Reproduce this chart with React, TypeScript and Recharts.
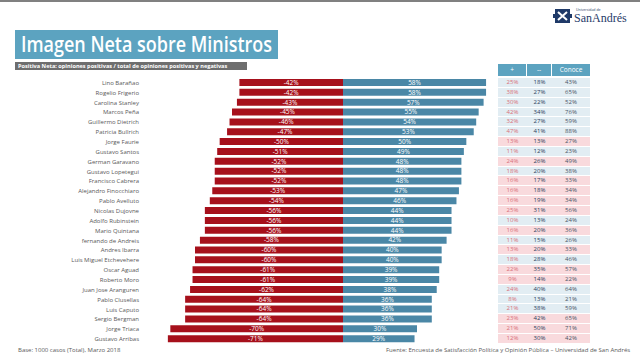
import React from "react";
import { BarChart, Bar, XAxis, YAxis, LabelList } from "recharts";

const ministers = [
  "Lino Barañao",
  "Rogelio Frigerio",
  "Carolina Stanley",
  "Marcos Peña",
  "Guillermo Dietrich",
  "Patricia Bullrich",
  "Jorge Faurie",
  "Gustavo Santos",
  "German Garavano",
  "Gustavo Lopetegui",
  "Francisco Cabrera",
  "Alejandro Finocchiaro",
  "Pablo Avelluto",
  "Nicolas Dujovne",
  "Adolfo Rubinstein",
  "Mario Quintana",
  "fernando de Andreis",
  "Andres Ibarra",
  "Luis Miguel Etchevehere",
  "Oscar Aguad",
  "Roberto Moro",
  "Juan Jose Aranguren",
  "Pablo Clusellas",
  "Luis Caputo",
  "Sergio Bergman",
  "Jorge Triaca",
  "Gustavo Arribas",
];

const negativeNet = [
  -42, -42, -43, -45, -46, -47, -50, -51, -52, -52, -52, -53, -54, -56, -56, -56,
  -58, -60, -60, -61, -61, -62, -64, -64, -64, -70, -71,
];
const positiveNet = [
  58, 58, 57, 55, 54, 53, 50, 49, 48, 48, 48, 47, 46, 44, 44, 44, 42, 40, 40, 39,
  39, 38, 36, 36, 36, 30, 29,
];

const favorable = [
  25, 38, 30, 42, 32, 47, 13, 11, 24, 18, 16, 16, 16, 25, 10, 16, 11, 13, 18, 22,
  9, 24, 8, 21, 23, 21, 12,
];
const unfavorable = [
  18, 27, 22, 34, 27, 41, 13, 12, 26, 20, 17, 18, 19, 31, 13, 20, 15, 20, 28, 35,
  14, 40, 13, 38, 42, 50, 30,
];
const knows = [
  43, 65, 52, 76, 59, 88, 27, 23, 49, 38, 33, 34, 34, 56, 24, 36, 26, 33, 46, 57,
  22, 64, 21, 59, 65, 71, 42,
];
// pink rows in the side table
const flagged = [
  false, false, false, false, false, false, true, false, true, false, true, true,
  true, true, false, true, false, true, false, true, true, false, false, false,
  true, true, true,
];

const tableHeaders = ["+", "--", "Conoce"];

const FONT = "'Open Sans', 'DejaVu Sans', sans-serif";
const RED = "#a6101b";
const BLUE = "#4a87a6";
const TEAL = "#5ca3c0";

const rows = ministers.map((name, i) => ({
  name,
  neg: negativeNet[i],
  pos: positiveNet[i],
}));

const TOP = 78;
const BOTTOM = 18;
const ROW_H = (362 - TOP - BOTTOM) / ministers.length;

const NameTick = (props: any) => {
  const { x, y, payload } = props;
  return (
    <text x={x} y={y} dy={2} textAnchor="end" fontSize={6} fill="#595959" fontFamily={FONT}>
      {payload.value}
    </text>
  );
};

const Logo = () => (
  <div style={{ position: "absolute", left: 553, top: 8, display: "flex", alignItems: "center" }}>
    <svg width={19} height={16}>
      <rect x={2} y={1} width={15} height={14} fill="#1f3a68" />
      <path d="M5 4 L14 12 M14 4 L5 12" stroke="#fff" strokeWidth={2} />
      <rect x={0} y={6} width={2} height={4} fill="#1f3a68" />
      <rect x={17} y={6} width={2} height={4} fill="#1f3a68" />
    </svg>
    <div style={{ marginLeft: 2, color: "#1f3a68", lineHeight: 1 }}>
      <div style={{ fontSize: 3.5, fontFamily: FONT, marginLeft: 2 }}>Universidad de</div>
      <div style={{ fontSize: 12, fontFamily: "'Liberation Serif', serif" }}>SanAndrés</div>
    </div>
  </div>
);

const SideTable = () => (
  <div style={{ position: "absolute", left: 498, top: 64, width: 92, fontFamily: FONT }}>
    <div style={{ display: "flex", height: 12 }}>
      {tableHeaders.map((h, j) => (
        <div
          key={h}
          style={{
            width: j === 2 ? 38 : j === 0 ? 29 : 25,
            background: TEAL,
            color: "#fff",
            fontSize: 6.5,
            textAlign: "center",
            lineHeight: "12px",
            borderRight: j < 2 ? "1px solid #fff" : "none",
            boxSizing: "border-box",
          }}
        >
          {h}
        </div>
      ))}
    </div>
    <div style={{ position: "absolute", top: TOP - 64, left: 0, width: 92 }}>
      {ministers.map((m, i) => (
        <div
          key={m}
          style={{
            display: "flex",
            height: ROW_H,
            background: flagged[i] ? "#f9dadd" : "#e2edf3",
            borderBottom: "1px solid #fff",
            boxSizing: "border-box",
            fontSize: 6,
            lineHeight: `${ROW_H - 1}px`,
          }}
        >
          <div style={{ width: 29, textAlign: "center", color: "#d8707a" }}>{favorable[i]}%</div>
          <div style={{ width: 25, textAlign: "center", color: "#2c3e5c" }}>{unfavorable[i]}%</div>
          <div style={{ width: 38, textAlign: "center", color: "#4a5566" }}>{knows[i]}%</div>
        </div>
      ))}
    </div>
  </div>
);

export default function App() {
  return (
    <div
      style={{
        position: "absolute",
        left: 0,
        top: 0,
        width: 640,
        height: 362,
        background: "#fff",
        overflow: "hidden",
        fontFamily: FONT,
      }}
    >
      <div style={{ position: "absolute", left: 0, top: 0, width: 640, height: 2, background: "#808080" }} />
      <Logo />
      <svg style={{ position: "absolute", left: 15, top: 24 }} width={420} height={38}>
        <rect x={0} y={6} width={263} height={29} fill={TEAL} />
        <text
          x={6}
          y={28}
          fill="#fff"
          fontFamily={FONT}
          fontWeight={600}
          fontSize={22}
          textLength={251}
          lengthAdjust="spacingAndGlyphs"
        >
          Imagen Neta sobre Ministros
        </text>
      </svg>
      <div
        style={{
          position: "absolute",
          left: 15,
          top: 62,
          width: 232,
          height: 8,
          background: "#6e6e6e",
          color: "#fff",
          fontWeight: 700,
          fontSize: 5.6,
          lineHeight: "8px",
          paddingLeft: 3,
          boxSizing: "border-box",
          whiteSpace: "nowrap",
        }}
      >
        Positiva Neta: opiniones positivas / total de opiniones positivas y negativas
      </div>

      <div style={{ position: "absolute", left: 0, top: 0 }}>
        <BarChart
          width={640}
          height={362}
          data={rows}
          layout="vertical"
          stackOffset="sign"
          margin={{ top: TOP, bottom: BOTTOM, left: 18, right: 149 }}
        >
          <XAxis type="number" domain={[-75, 60]} hide />
          <YAxis
            type="category"
            dataKey="name"
            width={140}
            axisLine={false}
            tickLine={false}
            tickSize={0}
            tickMargin={19}
            interval={0}
            tick={<NameTick />}
          />
          <Bar dataKey="neg" stackId="a" fill={RED} barSize={7} isAnimationActive={false}>
            <LabelList
              dataKey="neg"
              position="center"
              fill="#fff"
              fontSize={6.5}
              fontFamily={FONT}
              formatter={(v: number) => `${v}%`}
            />
          </Bar>
          <Bar dataKey="pos" stackId="a" fill={BLUE} barSize={7} isAnimationActive={false}>
            <LabelList
              dataKey="pos"
              position="center"
              fill="#fff"
              fontSize={6.5}
              fontFamily={FONT}
              formatter={(v: number) => `${v}%`}
            />
          </Bar>
        </BarChart>
      </div>

      <SideTable />

      <div style={{ position: "absolute", left: 18, top: 346, fontSize: 6, color: "#595959" }}>
        Base: 1000 casos (Total), Marzo 2018
      </div>
      <div style={{ position: "absolute", left: 386, top: 346, fontSize: 6, color: "#595959", whiteSpace: "nowrap" }}>
        Fuente: Encuesta de Satisfacción Política y Opinión Pública – Universidad de San Andrés
      </div>
    </div>
  );
}
